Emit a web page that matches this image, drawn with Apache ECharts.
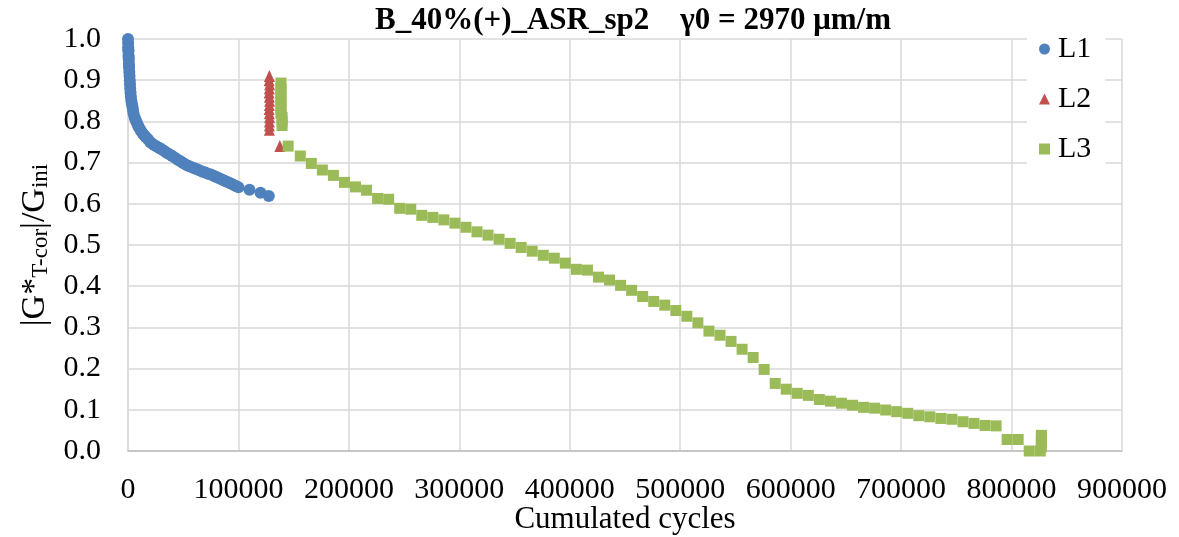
<!DOCTYPE html>
<html>
<head>
<meta charset="utf-8">
<script src="https://cdn.jsdelivr.net/npm/echarts@6/dist/echarts.min.js"></script>
<style>
html,body{margin:0;padding:0;background:#fff;}
#chart{width:1179px;height:537px;}
</style>
</head>
<body>
<div id="chart"></div>
<script>
// ---- data ----
const titleText = 'B_40%(+)_ASR_sp2    \u03b30 = 2970 \u03bcm/m';
const seriesNames = ['L1', 'L2', 'L3'];
const xTickMin = 0, xTickMax = 900000, xTickStep = 100000;
const yTickMin = 0, yTickMax = 1, yTickStep = 0.1;

const l1Cycles = [0,100,200,300,400,500,600,700,800,900,1000,1200,1400,1600,1800,2000,2300,2600,3000,3500,4000,4500,5000,6000,7000,8000,9000,10000,11500,13000,14500,16000,18000,20000,22000,24000,26000,28000,30000,32500,35000,37500,40000,42500,45000,47500,50000,52500,55000,57500,60000,62500,65000,67500,70000,72500,75000,77500,80000,82500,85000,87500,90000,92500,95000,97500,100000,110000,120000,127500];
const l1Values = [1.0,0.99,0.98,0.975,0.97,0.96,0.955,0.95,0.94,0.935,0.93,0.92,0.91,0.90,0.89,0.88,0.87,0.86,0.85,0.843,0.836,0.828,0.82,0.81,0.803,0.797,0.79,0.785,0.778,0.772,0.767,0.762,0.757,0.75,0.746,0.742,0.739,0.736,0.733,0.729,0.724,0.72,0.716,0.712,0.707,0.703,0.699,0.695,0.692,0.689,0.686,0.684,0.681,0.678,0.676,0.673,0.671,0.668,0.665,0.662,0.659,0.656,0.653,0.65,0.647,0.643,0.64,0.634,0.627,0.619];

const l2Cycles = [128000,127800,128200,128000,127800,128000,128200,128000,127800,128000,128200,128000,128000,128000,137500];
const l2Values = [0.91,0.90,0.89,0.88,0.87,0.86,0.85,0.84,0.83,0.82,0.81,0.80,0.79,0.78,0.74];

const l3Cycles = [138500,138500,138500,138500,138500,138500,138500,138500,139500,139500,139500,
  145000,156000,166000,176000,186000,196000,206000,216000,226000,236000,246000,256000,266000,276000,286000,296000,306000,316000,326000,336000,346000,356000,366000,376000,386000,396000,406000,416000,426000,436000,446000,456000,466000,476000,486000,496000,506000,516000,526000,536000,546000,556000,566000,576000,586000,596000,606000,616000,626000,636000,646000,656000,666000,676000,686000,696000,706000,716000,726000,736000,746000,756000,766000,776000,786000,796000,806000,816000,826000,827000,827000,827000,827000];
const l3Values = [0.893,0.88,0.87,0.86,0.85,0.84,0.83,0.82,0.81,0.80,0.79,
  0.740,0.716,0.698,0.682,0.669,0.652,0.641,0.633,0.613,0.611,0.589,0.587,0.572,0.567,0.561,0.553,0.543,0.532,0.524,0.514,0.504,0.494,0.485,0.475,0.468,0.456,0.441,0.439,0.422,0.415,0.402,0.390,0.375,0.363,0.354,0.341,0.327,0.311,0.291,0.281,0.266,0.247,0.227,0.198,0.164,0.150,0.140,0.135,0.125,0.121,0.116,0.111,0.106,0.104,0.0995,0.0955,0.0915,0.0857,0.083,0.079,0.077,0.071,0.067,0.062,0.061,0.028,0.028,0.0,0.0,0.01,0.02,0.03,0.038];

const pairs = (xs, ys) => xs.map((x, i) => [x, ys[i]]);
const FONT = '"Liberation Serif", "Times New Roman", serif';

const chart = echarts.init(document.getElementById('chart'), null, {renderer: 'canvas'});
chart.setOption({
  backgroundColor: '#ffffff',
  animation: false,
  title: {
    text: titleText,
    left: 628, top: 0, textAlign: 'center',
    textStyle: {fontFamily: FONT, fontWeight: 'bold', fontSize: 31, color: '#000'}
  },
  legend: {
    orient: 'vertical',
    left: 1027, top: 26,
    padding: [8, 14, 8, 12],
    backgroundColor: '#ffffff',
    itemGap: 20,
    itemWidth: 11, itemHeight: 11,
    textStyle: {fontFamily: FONT, fontSize: 30, color: '#000', padding: [0, 0, 0, 3]},
    data: seriesNames
  },
  grid: {left: 128, right: 57, top: 39, bottom: 86, containLabel: false, outerBoundsMode: 'none'},
  xAxis: {
    type: 'value',
    min: xTickMin, max: xTickMax, interval: xTickStep,
    name: 'Cumulated cycles',
    nameLocation: 'middle',
    nameGap: 53,
    nameMoveOverlap: false,
    nameTextStyle: {fontFamily: FONT, fontSize: 31, color: '#000', verticalAlign: 'top'},
    axisLine: {show: true, lineStyle: {color: '#bfbfbf', width: 1.5}},
    axisTick: {show: false},
    axisLabel: {fontFamily: FONT, fontSize: 30, color: '#000', margin: 24, formatter: v => String(v)},
    splitLine: {show: true, lineStyle: {color: '#d9d9d9', width: 1.5}}
  },
  yAxis: {
    type: 'value',
    min: yTickMin, max: yTickMax, interval: yTickStep,
    name: '{m||G*}{s|T-cor}{m||/G}{s|ini}',
    nameLocation: 'middle',
    nameRotate: 90,
    nameGap: 76,
    nameMoveOverlap: false,
    nameTextStyle: {
      fontFamily: FONT, fontSize: 34, color: '#000',
      rich: {
        m: {fontFamily: FONT, fontSize: 34, color: '#000', lineHeight: 34, verticalAlign: 'top'},
        s: {fontFamily: FONT, fontSize: 23, color: '#000', lineHeight: 23, verticalAlign: 'bottom', padding: [16, 0, 0, 0]}
      }
    },
    axisLine: {show: true, lineStyle: {color: '#d9d9d9', width: 1.5}},
    axisTick: {show: false},
    axisLabel: {fontFamily: FONT, fontSize: 30, color: '#000', margin: 27, formatter: v => v.toFixed(1)},
    splitLine: {show: true, lineStyle: {color: '#d9d9d9', width: 1.5}}
  },
  series: [
    {name: seriesNames[0], type: 'scatter', symbol: 'circle', symbolSize: 12,
     itemStyle: {color: '#4f81bd', opacity: 1}, data: pairs(l1Cycles, l1Values)},
    {name: seriesNames[1], type: 'scatter', symbol: 'triangle', symbolSize: [11, 12],
     itemStyle: {color: '#c0504d', opacity: 1}, data: pairs(l2Cycles, l2Values)},
    {name: seriesNames[2], type: 'scatter', symbol: 'rect', symbolSize: 11,
     itemStyle: {color: '#9bbb59', opacity: 1}, data: pairs(l3Cycles, l3Values)}
  ]
});
</script>
</body>
</html>
